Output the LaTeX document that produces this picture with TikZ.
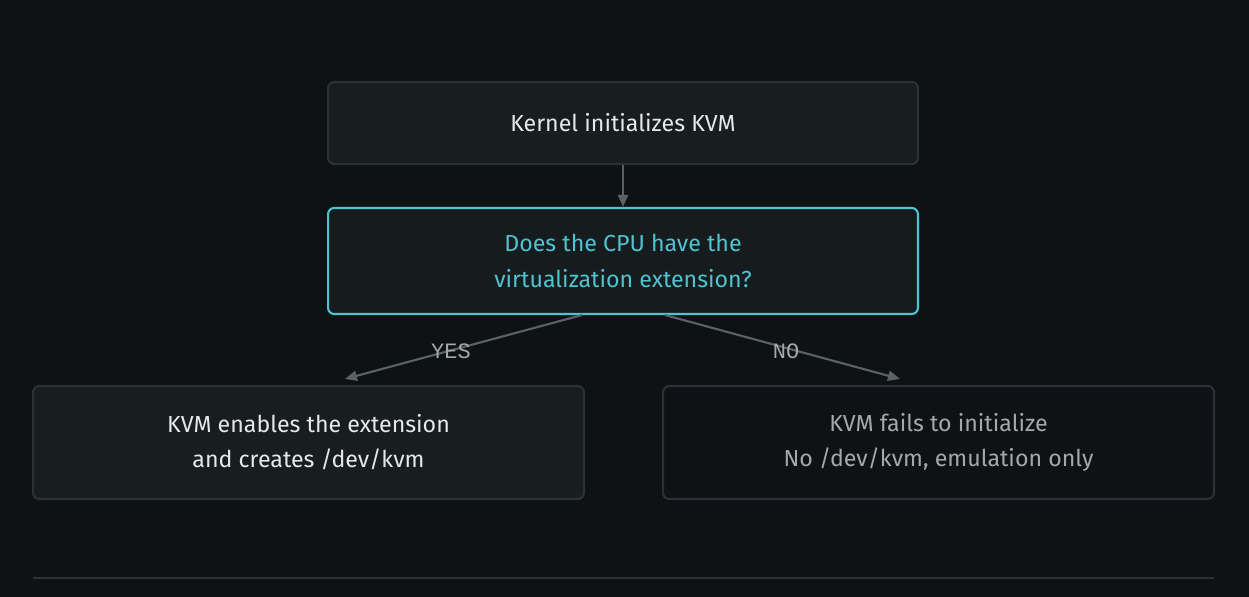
\documentclass[tikz,border=0pt]{standalone}
\usepackage{fontspec}
\setmainfont{Fira Sans}
\setmonofont{Liberation Mono}
\usetikzlibrary{arrows.meta}

\definecolor{bgcol}{HTML}{0E1215}
\definecolor{boxfill}{HTML}{181D20}
\definecolor{boxline}{HTML}{2B3135}
\definecolor{cyancol}{HTML}{4FC3CF}
\definecolor{arrcol}{HTML}{5A6266}
\definecolor{txtwhite}{HTML}{E6E8EA}
\definecolor{txtgray}{HTML}{A3A8AB}

\tikzset{
  box/.style={draw=boxline, line width=1.2pt, rounded corners=3.5pt, fill=boxfill,
    text=txtwhite, align=center, font=\fontsize{13.2}{20}\selectfont,
    minimum width=11.8cm, minimum height=1.64cm},
  askbox/.style={box, draw=cyancol, fill=boxfill!85!bgcol, text=cyancol, minimum height=2.12cm},
  endbox/.style={box, minimum width=11.02cm, minimum height=2.26cm},
  arr/.style={draw=arrcol, line width=1.2pt, -{Triangle[length=0.24cm,width=0.2cm]}},
  lbl/.style={text=txtgray, font=\ttfamily\fontsize{12.5}{14}\selectfont}
}

\begin{document}
\begin{tikzpicture}[x=0.02cm,y=-0.02cm]
\useasboundingbox[fill=bgcol] (0,0) rectangle (1249,597);

\node[box] (init) at (623,123) {Kernel initializes KVM};
\node[askbox] (ask) at (623,261) {Does the CPU have the\\virtualization extension?};
\node[endbox] (yes) at (308.5,442.5) {KVM enables the extension\\and creates /dev/kvm};
\node[endbox, fill=bgcol, text=txtgray] (no) at (938.5,442.5) {KVM fails to initialize\\No /dev/kvm, emulation only};

\draw[arr] (init) -- (ask);
\draw[arr] ([xshift=-0.82cm]ask.south) -- ([xshift=0.73cm,yshift=0.12cm]yes.north);
\draw[arr] ([xshift=0.84cm]ask.south) -- ([xshift=-0.77cm,yshift=0.12cm]no.north);

\node[lbl] (yeslbl) at (451,351) {YES};
\node[lbl] (nolbl) at (786,351) {NO};

% rule at the foot
\coordinate (footl) at (33,578);
\coordinate (footr) at (1214,578);
\draw[boxline, line width=1.2pt] (footl) -- (footr);
\end{tikzpicture}
\end{document}
